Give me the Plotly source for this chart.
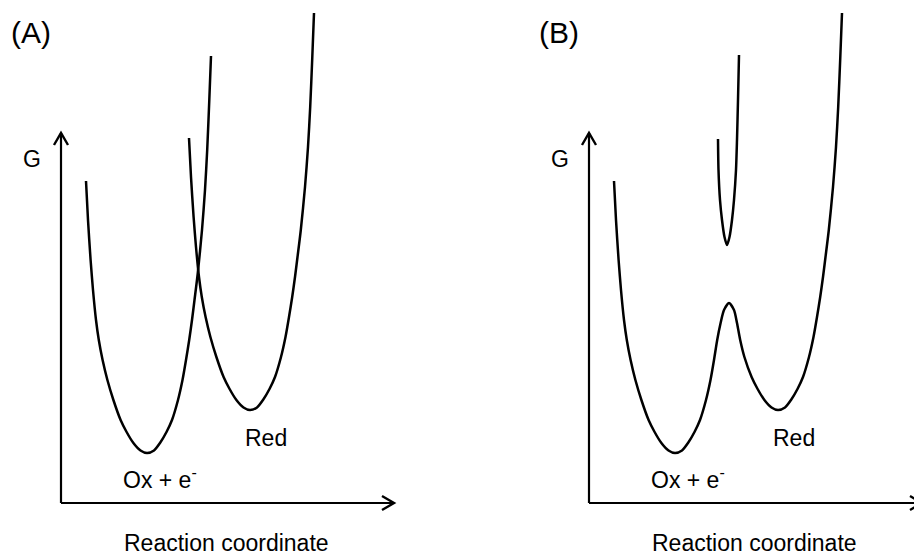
import plotly.graph_objects as go

# Panel A: two free-energy wells
ox_x = [86, 88, 90.6, 93, 96, 98.8, 102.6, 107.4, 113.4, 120.6, 126.6, 133.4, 140.5, 147, 154, 160,
        166.5, 172, 178, 182.5, 186, 189.2, 192, 194.5, 197.8, 202, 205, 207.2, 209.3, 211]
ox_y = [181, 220, 260, 290, 320, 340, 360, 380, 400, 420, 432, 443, 450.5, 453, 450.5, 443,
        432, 420, 400, 380, 360, 340, 320, 300, 273, 230, 190, 150, 100, 56]
red_x = [189, 191, 193.6, 196, 199, 201.8, 205.6, 210.4, 216.4, 223.6, 229.6, 236.4, 243.5, 250, 257, 263,
         269.5, 275, 281, 285.5, 289, 292.2, 295, 297.5, 300.8, 305, 308, 310.2, 312.3, 314]
red_y = [138, 177, 217, 247, 277, 297, 317, 337, 357, 377, 389, 400, 407.5, 410, 407.5, 400,
         389, 377, 357, 337, 317, 297, 277, 257, 230, 187, 147, 107, 57, 13]

# Panel B: lower (ground) adiabatic surface and upper surface
low_x = [614, 616, 618.6, 621, 624, 626.8, 630.6, 635.4, 641.4, 648.6, 654.6, 661.4, 668.5, 675, 682, 688,
         694.5, 700, 706, 710.5, 714, 717.2, 720.6, 724, 729, 734, 737, 740.2,
         744.4, 751.6, 757.6, 764.4, 771.5, 778, 785, 791, 797.5, 803, 809, 813.5, 817, 820.2, 823,
         825.5, 828.8, 833, 836, 838.2, 840.3, 842]
low_y = [181, 220, 260, 290, 320, 340, 360, 380, 400, 420, 432, 443, 450.5, 453, 450.5, 443,
         432, 420, 400, 380, 360, 340, 323, 310, 303, 310, 323, 340,
         357, 377, 389, 400, 407.5, 410, 407.5, 400, 389, 377, 357, 337, 317, 297, 277,
         257, 230, 187, 147, 107, 57, 13]
up_x = [718, 718.5, 720, 722, 724.5, 727, 729.5, 732, 734, 736, 737, 738, 739]
up_y = [139, 170, 200, 220, 237, 245, 237, 220, 200, 170, 140, 100, 55]

# axes of the two panels: origin x, origin y, y-arrow tip, x-arrow tip
axis_origin_x = [61, 589]
axis_origin_y = [503, 503]
axis_ytip = [133, 133]
axis_xtip = [394, 922]

panel_labels = ["(A)", "(B)"]
panel_label_x = [31, 559]
g_label_x = [32, 560]
ox_label_x = [121, 649]
red_label_x = [243, 771]
xtitle_x = [226, 754]

W, H = 914, 555
BLACK = "#000000"
FONT = "Liberation Sans, Arial, sans-serif"

fig = go.Figure()

def curve(xs, ys, width=2.5):
    fig.add_trace(go.Scatter(x=xs, y=ys, mode="lines",
                             line=dict(color=BLACK, width=width, shape="spline", smoothing=0.7),
                             hoverinfo="skip", showlegend=False))

def poly(xs, ys, width=2.2):
    fig.add_trace(go.Scatter(x=xs, y=ys, mode="lines",
                             line=dict(color=BLACK, width=width),
                             hoverinfo="skip", showlegend=False))

curve(ox_x, ox_y)
curve(red_x, red_y)
curve(low_x, low_y)
curve(up_x, up_y)

HEAD_L, HEAD_W = 12, 7
for i in range(2):
    x0, y0, yt, xt = axis_origin_x[i], axis_origin_y[i], axis_ytip[i], axis_xtip[i]
    # axis lines
    poly([x0, x0], [y0, yt])
    poly([x0, xt], [y0, y0])
    # open chevron arrowheads
    poly([x0 - HEAD_W, x0, x0 + HEAD_W], [yt + HEAD_L, yt, yt + HEAD_L], width=2.4)
    poly([xt - HEAD_L, xt, xt - HEAD_L], [y0 - HEAD_W, y0, y0 + HEAD_W], width=2.4)

ann = []
def label(text, x, y, size, xanchor="center"):
    ann.append(dict(text=text, x=x, y=y, xref="x", yref="y", showarrow=False,
                    xanchor=xanchor, yanchor="middle",
                    font=dict(family=FONT, size=size, color=BLACK)))

for i in range(2):
    label(panel_labels[i], panel_label_x[i], 32, 30)
    label("G", g_label_x[i], 159, 23)
    label("Ox + e<sup>-</sup>", ox_label_x[i], 478, 23, xanchor="left")
    label("Red", red_label_x[i], 438, 23, xanchor="left")
    label("Reaction coordinate", xtitle_x[i], 543, 23)

fig.update_layout(
    width=W, height=H,
    margin=dict(l=0, r=0, t=0, b=0),
    paper_bgcolor="white", plot_bgcolor="white",
    xaxis=dict(range=[0, W], visible=False, fixedrange=True),
    yaxis=dict(range=[H, 0], visible=False, fixedrange=True),
    annotations=ann,
    showlegend=False,
)

fig.write_html("out.html",
               config={"displayModeBar": False},
               post_script="document.body.style.margin='0';document.body.style.overflow='hidden';")
